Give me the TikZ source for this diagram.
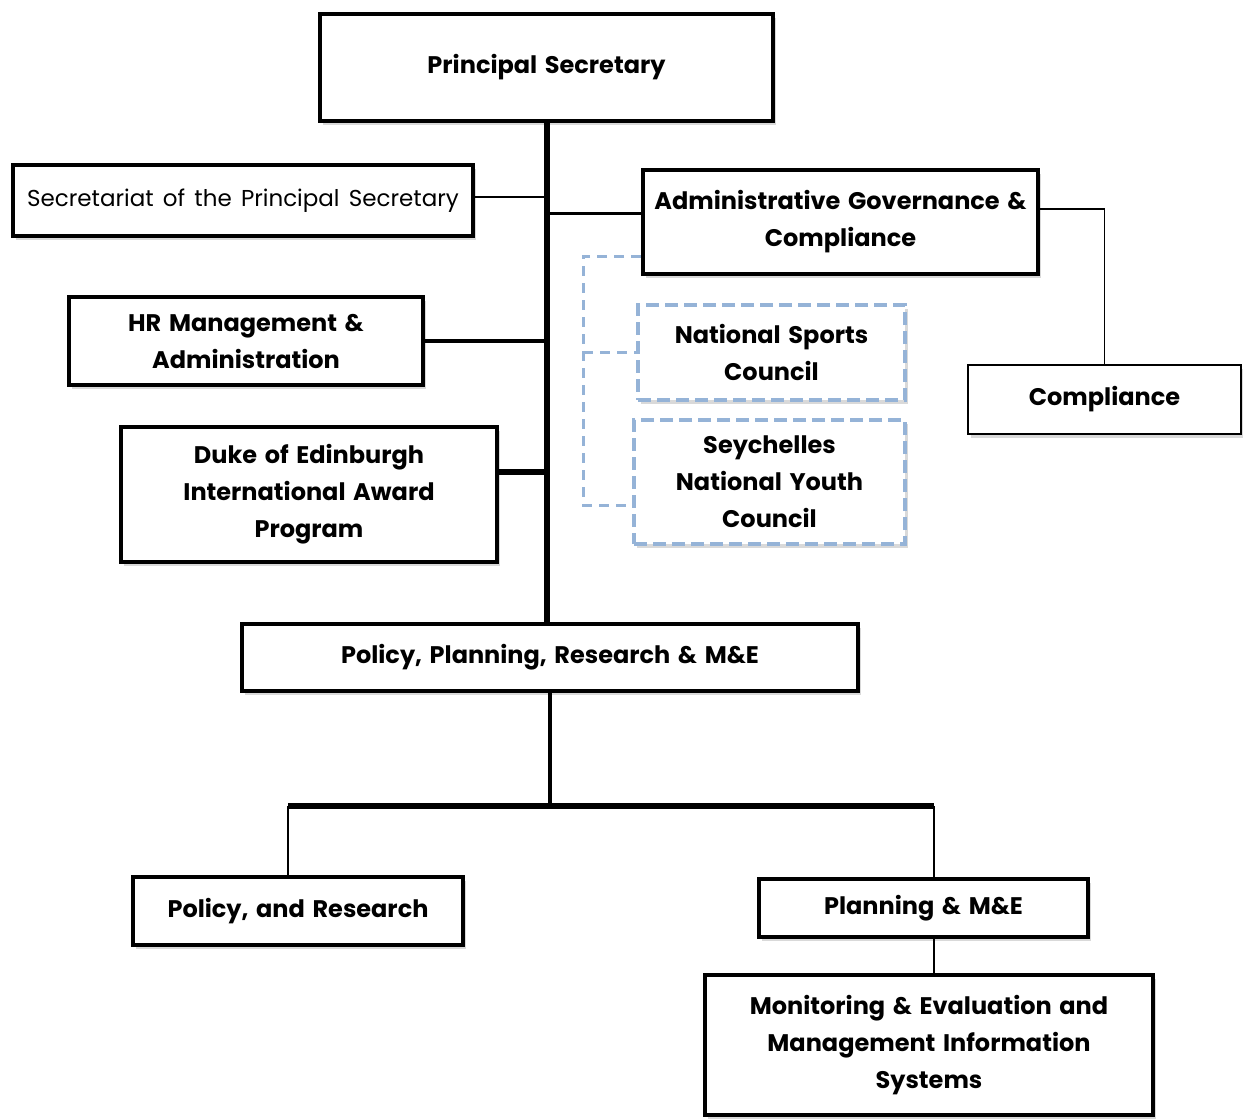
\documentclass[tikz,border=0pt]{standalone}
\usepackage{fontspec}
\setmainfont{Poppins}[WordSpace=1.5]
\usepackage{xcolor}
\usetikzlibrary{positioning, calc, shadows}
\definecolor{dashblue}{HTML}{95B3D7}

\begin{document}
\begin{tikzpicture}[
    x=1pt, y=-1pt,
    unit/.style={draw, fill=white, line width=3.5pt, align=center,
                 font=\fontsize{24}{37}\selectfont\bfseries, inner sep=0pt,
                 drop shadow={shadow xshift=3pt, shadow yshift=-4pt,
                              opacity=0.3}},
    body/.style={unit, draw=dashblue, line width=3.5pt,
                 dash pattern=on 13pt off 6pt},
    spine/.style={line width=6pt},
    feed/.style={line width=3.5pt},
    tie/.style={line width=1.5pt},
    assoc/.style={line width=3pt, dashblue, dash pattern=on 10pt off 7pt},
]
\useasboundingbox (0,0) rectangle (1243,1119);

% --- Top ---
\node[unit, line width=4pt, minimum width=453, minimum height=107] (ps)
    at (546.5, 67.5) {Principal Secretary};

% --- Left units ---
\node[unit, line width=4pt, minimum width=460, minimum height=71,
      font=\fontsize{23}{37}\selectfont] (sec) at (243, 200.5)
    {Secretariat of the Principal Secretary};
\node[unit, minimum width=354, minimum height=88] (hr) at (246, 341)
    {HR Management \&\\Administration};
\node[unit, minimum width=376, minimum height=135] (duke) at (309, 494.5)
    {Duke of Edinburgh\\International Award\\Program};

% --- Right units ---
\node[unit, line width=4pt, minimum width=395, minimum height=104] (agc)
    at (840.5, 222) {Administrative Governance \&\\Compliance};
\node[unit, line width=2pt, minimum width=273, minimum height=69] (comp)
    at (1104.5, 399.5) {Compliance};

% --- Attached bodies ---
\node[body, minimum width=267, minimum height=95] (nsc) at (771.5, 352.5)
    {National Sports\\Council};
\node[body, minimum width=271, minimum height=124] (snyc) at (769.5, 482)
    {Seychelles\\National Youth\\Council};

% --- Policy branch ---
\node[unit, line width=4pt, minimum width=616, minimum height=67] (pprme)
    at (550, 657.5) {Policy, Planning, Research \& M\&E};
\node[unit, minimum width=330, minimum height=68] (pr) at (298, 911)
    {Policy, and Research};
\node[unit, minimum width=329, minimum height=58] (pme) at (923.5, 908)
    {Planning \& M\&E};
\node[unit, minimum width=448, minimum height=140] (mis) at (929, 1045)
    {Monitoring \& Evaluation and\\Management Information\\Systems};

\coordinate (dv) at (583, 256);
\coordinate (barL) at (288, 806);
\coordinate (barR) at (934, 806);

% --- Main flow ---
\draw[spine] (ps.south) -- (ps.south |- pprme.north);
\draw[tie] ([yshift=3.5pt]sec.east) -- ([yshift=3.5pt]sec.east -| ps.south);
\draw[feed, line width=3pt] ([yshift=9pt]agc.west) -- ([yshift=9pt]agc.west -| ps.south);
\draw[feed] (hr.east) -- (hr.east -| ps.south);
\draw[spine] ([yshift=22.5pt]duke.east) -- ([yshift=22.5pt]duke.east -| ps.south);
\draw[tie] ([yshift=13pt]agc.east) -| (comp.north);

% --- Dashed links ---
\draw[assoc] ([yshift=-34pt]agc.west) -- (dv) |- ([yshift=-23pt]snyc.west);
\draw[assoc] (dv |- nsc.west) -- (nsc.west);

% --- Lower branch ---
\draw[feed, line width=4pt] (pprme.south) -- (pprme.south |- barL);
\draw[spine] (barL) -- (barR);
\draw[tie] (barL) -- (barL |- pr.north);
\draw[tie] (barR) -- (barR |- pme.north);
\draw[tie] (barR |- pme.south) -- (barR |- mis.north);
\end{tikzpicture}
\end{document}
